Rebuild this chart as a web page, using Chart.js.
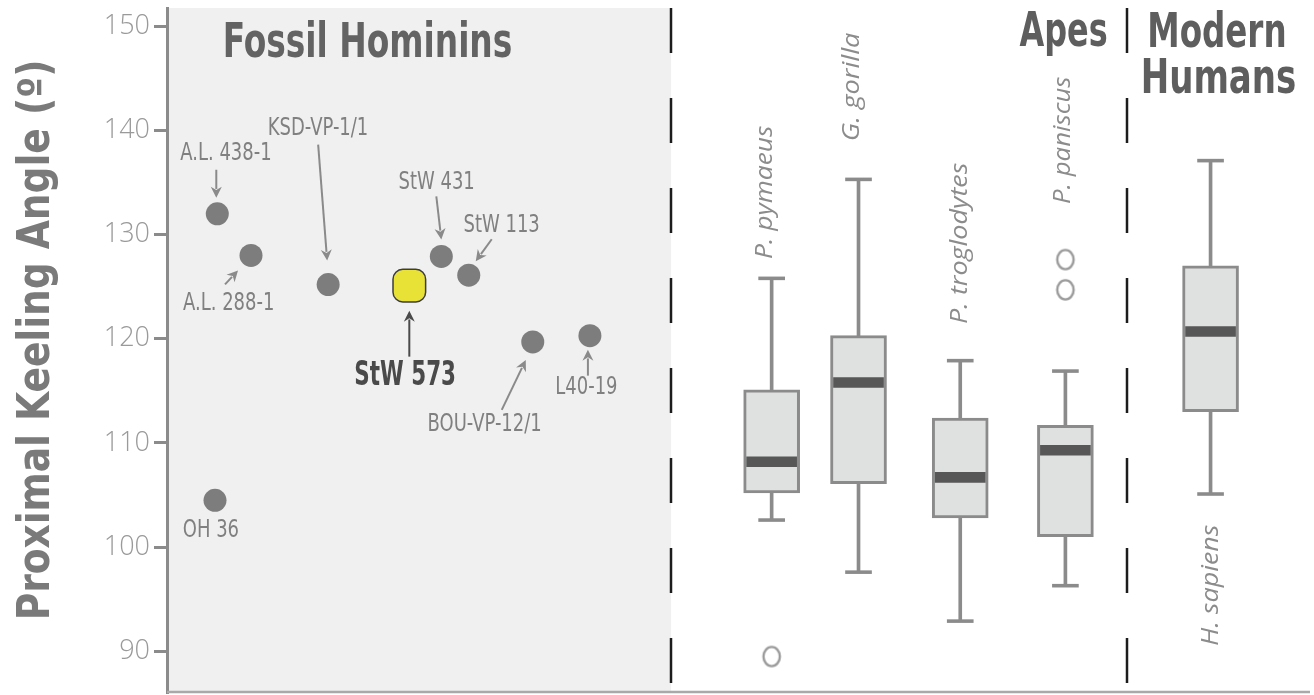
<!DOCTYPE html>
<html>
<head>
<meta charset="utf-8">
<title>Proximal Keeling Angle</title>
<script src="https://cdn.jsdelivr.net/npm/chart.js@4.4.0/dist/chart.umd.min.js"></script>
<style>
  html, body { margin: 0; padding: 0; background: #ffffff; }
  #wrap { width: 1314px; height: 695px; }
  canvas { display: block; }
</style>
</head>
<body>
<div id="wrap"><canvas id="keeling" width="1314" height="695"></canvas></div>
<script>
// ---- Fossil hominin specimens ----
const fossilNames  = ['A.L. 438-1', 'A.L. 288-1', 'KSD-VP-1/1', 'StW 573', 'StW 431', 'StW 113', 'BOU-VP-12/1', 'L40-19', 'OH 36'];
const fossilSlots  = [4.4, 7.35, 14.1, 21.2, 24.0, 26.4, 32.0, 37.0, 4.2];
const fossilAngles = [132.0, 128.0, 125.2, 125.1, 127.9, 126.1, 119.7, 120.3, 104.5];
const highlighted  = 'StW 573';

// ---- Extant taxa (box plots) ----
const taxa        = ['P. pymaeus', 'G. gorilla', 'P. troglodytes', 'P. paniscus', 'H. sapiens'];
const taxaSlots   = [52.9, 60.5, 69.4, 78.6, 91.3];
const whiskerLow  = [102.6, 97.6, 92.9, 96.3, 105.1];
const quartile1   = [105.2, 106.1, 102.8, 101.0, 113.0];
const medians     = [108.2, 115.8, 106.7, 109.3, 120.7];
const quartile3   = [115.1, 120.3, 112.4, 111.7, 127.0];
const whiskerHigh = [125.8, 135.3, 117.9, 116.9, 137.1];
const outlierTaxon  = [0, 3, 3];
const outlierAngles = [89.5, 127.6, 124.7];

// ---- Axis ----
const yTicks = [90, 100, 110, 120, 130, 140, 150];
const yMin = 86, yMax = 151.75;
const groupDividers = [44.1, 84.0];   // x positions of the dashed separators

// ---- Label placement (pixels, relative to each dot) ----
const fossilLabelLayout = [
  { dx: 8,   dy: -60, arrow: [-1, -44, -1, -16] },
  { dx: -23, dy: 48,  arrow: [-26, 29, -13, 15] },
  { dx: -10, dy: -156, arrow: [-10, -140, -1, -24] },
  { dx: -4,  dy: 91,  arrow: [0, 71, 0, 25] },
  { dx: -5,  dy: -74, arrow: [-5, -60, 0, -17] },
  { dx: 33,  dy: -49, arrow: [23, -36, 7, -14] },
  { dx: -48, dy: 83,  arrow: [-31, 68, -7, 18] },
  { dx: -3,  dy: 52,  arrow: [-2, 40, -2, 14] },
  { dx: -4,  dy: 31,  arrow: null }
];
// taxon names: x offset from box centre, start (bottom) pixel row, drawn length
const taxaLabelDx    = [-6, -6, 0, -2, 1];
const taxaLabelStart = [258, 140, 323, 203, 645];
const taxaLabelLen   = [132, 108, 160, 126, 120];

const NARROW = "'Liberation Sans Narrow', 'DejaVu Sans Condensed', 'Roboto', sans-serif";
const SANS   = "'Open Sans', 'DejaVu Sans', sans-serif";

// hollow "O" marker for outliers
function makeRing() {
  const c = document.createElement('canvas');
  c.width = 22; c.height = 24;
  const g = c.getContext('2d');
  g.strokeStyle = '#9a9a9a';
  g.lineWidth = 2.4;
  g.beginPath();
  g.ellipse(11, 12, 8.2, 9.6, 0, 0, Math.PI * 2);
  g.stroke();
  return c;
}
const ring = makeRing();

// ---- Dataset construction ----
const stemData = [], capData = [];
const capHalf = 0.14;
taxa.forEach((t, i) => {
  stemData.push({ x: taxaSlots[i], y: [whiskerLow[i], quartile1[i]] });
  stemData.push({ x: taxaSlots[i], y: [quartile3[i], whiskerHigh[i]] });
  capData.push({ x: taxaSlots[i], y: [whiskerLow[i] - capHalf, whiskerLow[i] + capHalf] });
  capData.push({ x: taxaSlots[i], y: [whiskerHigh[i] - capHalf, whiskerHigh[i] + capHalf] });
});
const boxData = taxa.map((t, i) => ({ x: taxaSlots[i], y: [quartile1[i], quartile3[i]] }));
const medianHalf = 0.48;
const medianData = taxa.map((t, i) => ({ x: taxaSlots[i], y: [medians[i] - medianHalf, medians[i] + medianHalf] }));

const fossilPts = [], keyPts = [];
fossilNames.forEach((n, i) => {
  const p = { x: fossilSlots[i], y: fossilAngles[i] };
  (n === highlighted ? keyPts : fossilPts).push(p);
});
const outlierPts = outlierAngles.map((v, i) => ({ x: taxaSlots[outlierTaxon[i]], y: v }));

// ---- Drawing helpers ----
// Draws text stretched so its ink spans `width` pixels; align refers to the ink box.
function fittedText(ctx, text, x, y, font, color, width, opts = {}) {
  ctx.save();
  ctx.font = font;
  ctx.fillStyle = color;
  ctx.textAlign = 'left';
  ctx.textBaseline = opts.baseline || 'middle';
  const m = ctx.measureText(text);
  const inkL = m.actualBoundingBoxLeft, inkR = m.actualBoundingBoxRight;
  const inkW = inkL + inkR;
  ctx.translate(x, y);
  if (opts.rotate) ctx.rotate(opts.rotate);
  ctx.scale(width / inkW, 1);
  const x0 = (opts.align === 'left') ? inkL : (inkL - inkR) / 2;
  ctx.fillText(text, x0, 0);
  ctx.restore();
}

function arrow(ctx, x1, y1, x2, y2, color) {
  const ang = Math.atan2(y2 - y1, x2 - x1);
  const head = 11, half = 5.5;
  ctx.save();
  ctx.strokeStyle = color;
  ctx.fillStyle = color;
  ctx.lineWidth = 2;
  ctx.beginPath();
  ctx.moveTo(x1, y1);
  ctx.lineTo(x2 - Math.cos(ang) * head * 0.8, y2 - Math.sin(ang) * head * 0.8);
  ctx.stroke();
  ctx.beginPath();
  ctx.moveTo(x2, y2);
  ctx.lineTo(x2 - Math.cos(ang) * head + Math.sin(ang) * half, y2 - Math.sin(ang) * head - Math.cos(ang) * half);
  ctx.lineTo(x2 - Math.cos(ang) * head * 0.7, y2 - Math.sin(ang) * head * 0.7);
  ctx.lineTo(x2 - Math.cos(ang) * head - Math.sin(ang) * half, y2 - Math.sin(ang) * head + Math.cos(ang) * half);
  ctx.closePath();
  ctx.fill();
  ctx.restore();
}

// shaded fossil panel, bottom rule and dashed group separators
const panels = {
  id: 'panels',
  beforeDraw(chart) {
    const { ctx, chartArea: a, scales: { x } } = chart;
    ctx.save();
    ctx.fillStyle = '#ffffff';
    ctx.fillRect(0, 0, chart.width, chart.height);
    ctx.fillStyle = '#f0f0f0';
    const xr = x.getPixelForValue(groupDividers[0]);
    ctx.fillRect(a.left, a.top, xr - a.left, a.bottom - a.top);
    ctx.restore();
  },
  beforeDatasetsDraw(chart) {
    const { ctx, chartArea: a } = chart;
    ctx.save();
    ctx.strokeStyle = '#a9a9a9';
    ctx.lineWidth = 2.5;
    ctx.beginPath();
    ctx.moveTo(a.left, a.bottom - 1);
    ctx.lineTo(a.right, a.bottom - 1);
    ctx.stroke();
    ctx.restore();
  },
  afterDatasetsDraw(chart) {
    const { ctx, chartArea: a, scales: { x } } = chart;
    ctx.save();
    ctx.strokeStyle = '#1c1c1c';
    ctx.lineWidth = 2.5;
    ctx.setLineDash([45, 45]);
    groupDividers.forEach(v => {
      const px = Math.round(x.getPixelForValue(v));
      ctx.beginPath();
      ctx.moveTo(px, a.top);
      ctx.lineTo(px, a.bottom);
      ctx.stroke();
    });
    ctx.restore();
  }
};

// specimen labels, taxon names, group headings and axis title
const annotations = {
  id: 'annotations',
  afterDraw(chart) {
    const { ctx, scales: { x, y } } = chart;
    // scale factor so the narrow label face keeps its printed proportions
    ctx.save();
    ctx.font = '24px ' + NARROW;
    const ref = ctx.measureText('StW 431');
    const squeeze = 74 / (ref.actualBoundingBoxLeft + ref.actualBoundingBoxRight);
    ctx.restore();

    fossilNames.forEach((name, i) => {
      const px = x.getPixelForValue(fossilSlots[i]);
      const py = y.getPixelForValue(fossilAngles[i]);
      const L = fossilLabelLayout[i];
      const key = name === highlighted;
      const col = key ? '#4a4a4a' : '#808080';
      if (L.arrow) arrow(ctx, px + L.arrow[0], py + L.arrow[1], px + L.arrow[2], py + L.arrow[3], key ? '#4a4a4a' : '#8a8a8a');
      if (key) {
        fittedText(ctx, name, px + L.dx, py + L.dy, 'bold 33px ' + NARROW, col, 99);
      } else {
        ctx.save();
        ctx.font = '24px ' + NARROW;
        const m = ctx.measureText(name);
        ctx.restore();
        const w = (m.actualBoundingBoxLeft + m.actualBoundingBoxRight) * squeeze;
        fittedText(ctx, name, px + L.dx, py + L.dy, '24px ' + NARROW, col, w);
      }
    });

    taxa.forEach((t, i) => {
      const px = x.getPixelForValue(taxaSlots[i]) + taxaLabelDx[i];
      fittedText(ctx, t, px, taxaLabelStart[i], 'italic 24px ' + SANS, '#8c8c8c', taxaLabelLen[i],
        { align: 'left', rotate: -Math.PI / 2 });
    });

    const head = '#5e5e5e';
    fittedText(ctx, 'Fossil Hominins', 368, 57, 'bold 48px ' + NARROW, '#636363', 286, { baseline: 'alphabetic' });
    fittedText(ctx, 'Apes', 1063, 46, 'bold 48px ' + NARROW, head, 87, { baseline: 'alphabetic' });
    fittedText(ctx, 'Modern', 1217, 47, 'bold 48px ' + NARROW, head, 135, { baseline: 'alphabetic' });
    fittedText(ctx, 'Humans', 1219, 93, 'bold 48px ' + NARROW, head, 152, { baseline: 'alphabetic' });

    fittedText(ctx, 'Proximal Keeling Angle (º)', 49, 340, 'bold 44px ' + NARROW, '#7a7a7a', 555,
      { baseline: 'alphabetic', rotate: -Math.PI / 2 });
  }
};

const chart = new Chart(document.getElementById('keeling'), {
  type: 'scatter',
  data: {
    datasets: [
      { type: 'scatter', label: 'Fossil hominins', data: fossilPts, order: 0,
        pointRadius: 11.5, pointBackgroundColor: '#7d7d7d', pointBorderWidth: 0 },
      { type: 'scatter', label: highlighted, data: keyPts, order: 0,
        pointStyle: 'rectRounded', pointRadius: 19, pointBackgroundColor: '#e9e236',
        pointBorderColor: '#3c3c3c', pointBorderWidth: 1.5 },
      { type: 'scatter', label: 'Outliers', data: outlierPts, order: 0, pointStyle: ring, pointRadius: 11 },
      { type: 'bar', label: 'Median', data: medianData, order: 1, grouped: false,
        barThickness: 50, backgroundColor: '#575757', borderWidth: 0 },
      { type: 'bar', label: 'Interquartile range', data: boxData, order: 2, grouped: false,
        barThickness: 56, backgroundColor: '#dfe0e0', borderColor: '#8b8b8b', borderWidth: 3, borderSkipped: false },
      { type: 'bar', label: 'Whisker caps', data: capData, order: 3, grouped: false,
        barThickness: 26, backgroundColor: '#8b8b8b', borderWidth: 0 },
      { type: 'bar', label: 'Whiskers', data: stemData, order: 4, grouped: false,
        barThickness: 3, backgroundColor: '#8b8b8b', borderWidth: 0 }
    ]
  },
  options: {
    responsive: false,
    animation: false,
    devicePixelRatio: 1,
    events: [],
    layout: { autoPadding: false, padding: { top: 8, right: 4, bottom: 2, left: 0 } },
    plugins: { legend: { display: false }, tooltip: { enabled: false } },
    scales: {
      x: { type: 'linear', min: 0, max: 100, offset: false, display: false },
      y: {
        type: 'linear', min: yMin, max: yMax, position: 'left',
        afterBuildTicks: s => { s.ticks = yTicks.map(v => ({ value: v })); },
        afterFit: s => { s.width = 167; s.paddingTop = 0; s.paddingBottom = 0; },
        ticks: { color: '#9a9a9a', padding: 4, autoSkip: false,
                 font: { size: 27, weight: '300', family: SANS } },
        grid: { drawOnChartArea: false, tickLength: 13, tickColor: '#8b8b8b', tickWidth: 3 },
        border: { color: '#8b8b8b', width: 3 }
      }
    }
  },
  plugins: [panels, annotations]
});
</script>
</body>
</html>
